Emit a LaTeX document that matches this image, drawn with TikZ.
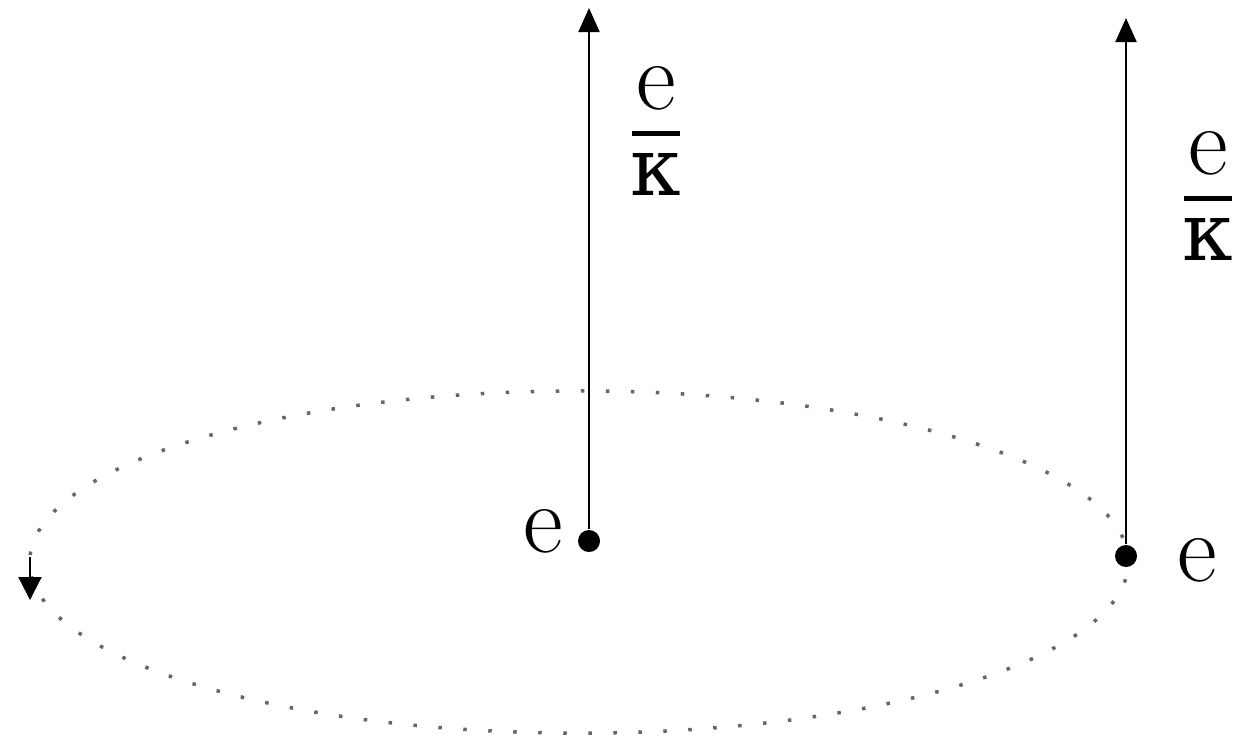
\documentclass[tikz,border=0pt]{standalone}
\usepackage{fontspec}
\newfontfamily\greekfont{DejaVu Serif}
\usetikzlibrary{arrows.meta}
\newcommand{\kap}{{\greekfont\fontsize{23}{28}\selectfont κ}}
\newcommand{\ekfrac}{\vbox{\offinterlineskip\halign{\hfil##\hfil\cr
    e\cr\noalign{\kern0.21em}
    \vrule width 0.5em height 0.05em\cr\noalign{\kern0.18em}
    \kap\cr}}}

\begin{document}
\begin{tikzpicture}[
    x = 0.01cm, y = -0.01cm,
    P/.style = {circle, fill, inner sep = 0pt, minimum size = 0.22cm},
    L/.style = {inner sep = 0pt, font=\fontsize{27.7}{32}\selectfont},
    A/.style = {line width = 0.6pt, -{Triangle[length=0.24cm, width=0.21cm]}}
    ]
    \useasboundingbox (0,0) rectangle (1258,741);
    % orbit
    \draw[black!60, line width=0.035cm, dash pattern=on 0.035cm off 0.215cm]
        (579,562) ellipse [x radius=5.49cm, y radius=1.71cm];
    \coordinate (orbit) at (30,557);
    \coordinate (orbitend) at (30,600);
    \draw[A, -{Triangle[length=0.23cm, width=0.23cm]}] (orbit) -- (orbitend);
    % charges
    \node[P] (q1) at (589,541) {};
    \node[P] (q2) at (1126,556) {};
    \node[L] (q1e) at (543,531) {e};
    \node[L] (q2e) at (1197,560) {e};
    % strings
    \coordinate (q1top) at (589,8);
    \coordinate (q2top) at (1126,18);
    \draw[A] (q1) -- (q1top);
    \draw[A] (q2) -- (q2top);
    \node[L] (q1f) at (656,131) {\ekfrac};
    \node[L] (q2f) at (1208,196) {\ekfrac};
\end{tikzpicture}
\end{document}
